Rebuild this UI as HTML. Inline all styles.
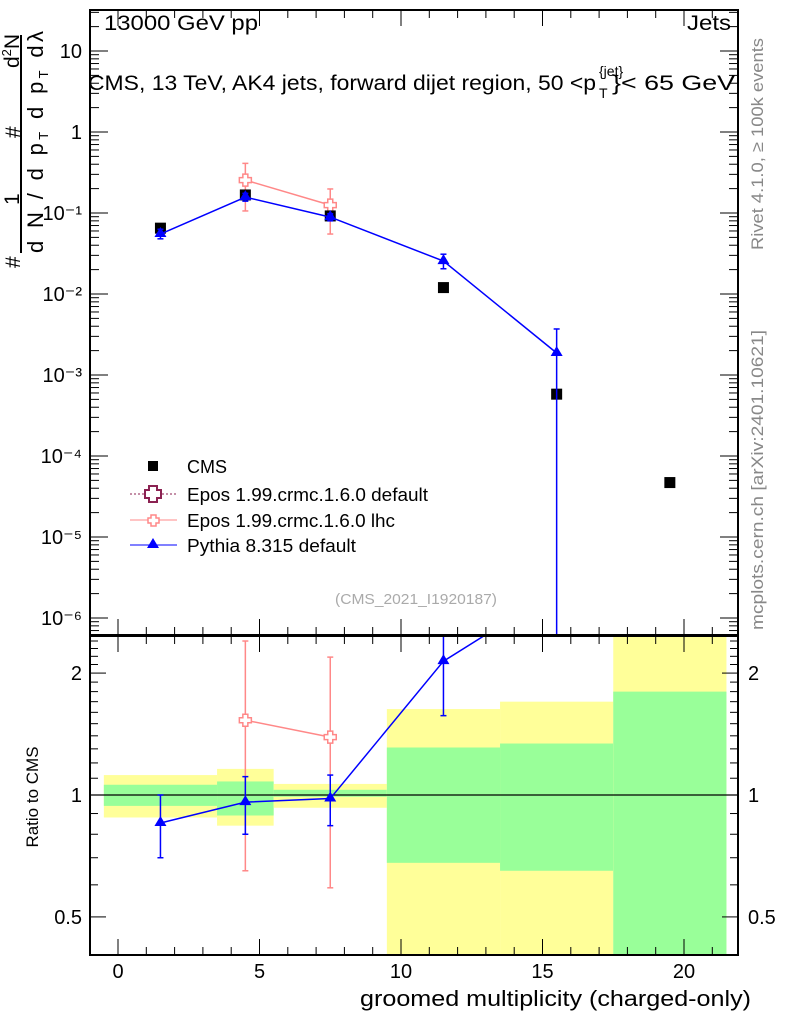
<!DOCTYPE html>
<html><head><meta charset="utf-8"><style>
html,body{margin:0;padding:0;background:#fff;overflow:hidden;}
svg{display:block;font-family:"Liberation Sans",sans-serif;}
</style></head><body>
<svg id="c" width="786" height="1024" viewBox="0 0 786 1024" xmlns="http://www.w3.org/2000/svg">
<text x="104" y="30" font-size="21" textLength="154" lengthAdjust="spacingAndGlyphs">13000 GeV pp</text>
<text x="687" y="30" font-size="21" textLength="44" lengthAdjust="spacingAndGlyphs">Jets</text>
<text x="88" y="90" font-size="21"><tspan textLength="508" lengthAdjust="spacingAndGlyphs">CMS, 13 TeV, AK4 jets, forward dijet region, 50 &lt;p</tspan><tspan font-size="14" dy="-14" x="599">{jet}</tspan><tspan font-size="14" x="599" dy="22">T</tspan><tspan x="612" dy="-8" textLength="123" lengthAdjust="spacingAndGlyphs">}&lt; 65 GeV</tspan></text>
<g transform="translate(0,300) rotate(-90)" font-size="21">
  <text x="32" y="20">#</text>
  <text x="95" y="19">1</text>
  <text x="162" y="20">#</text>
  <text x="232" y="19">d<tspan font-size="13" dy="-8">2</tspan><tspan dy="8">N</tspan></text>
  <line x1="47" y1="21" x2="265" y2="21" stroke="#000" stroke-width="2"/>
  <text x="47" y="43" font-size="22" textLength="222" lengthAdjust="spacing">d N / d p<tspan font-size="13" dy="5">T</tspan><tspan dy="-5"> d p</tspan><tspan font-size="13" dy="5">T</tspan><tspan dy="-5"> dλ</tspan></text>
</g>
<text transform="translate(38,797) rotate(-90)" font-size="17" text-anchor="middle">Ratio to CMS</text>
<text transform="translate(763,144) rotate(-90)" font-size="17" fill="#888" text-anchor="middle" textLength="212" lengthAdjust="spacingAndGlyphs">Rivet 4.1.0, ≥ 100k events</text>
<text transform="translate(763,480) rotate(-90)" font-size="17" fill="#888" text-anchor="middle" textLength="300" lengthAdjust="spacingAndGlyphs">mcplots.cern.ch [arXiv:2401.10621]</text>
<text x="335" y="604" font-size="15" fill="#aaa" textLength="162" lengthAdjust="spacingAndGlyphs">(CMS_2021_I1920187)</text>
<text x="360" y="1006" font-size="22" textLength="391" lengthAdjust="spacingAndGlyphs">groomed multiplicity (charged-only)</text>
<g id="bands"></g><g id="marks"></g><g id="axes"></g>
<g font-size="18">
  <rect x="148" y="461" width="10" height="10" fill="#000"/>
  <text x="187" y="473">CMS</text>
  <line x1="130" y1="494" x2="177" y2="494" stroke="#8b2252" stroke-dasharray="2,2"/>
  <path d="M149,488h8v4h4v8h-4v4h-8v-4h-4v-8h4z" transform="translate(0,-2)" fill="#fff" stroke="#8b2252" stroke-width="2"/>
  <text x="187" y="501" textLength="241" lengthAdjust="spacingAndGlyphs">Epos 1.99.crmc.1.6.0 default</text>
  <line x1="130" y1="520" x2="177" y2="520" stroke="#f88"/>
  <path d="M151,515h5v3h3v5h-3v3h-5v-3h-3v-5h3z" fill="#fff" stroke="#f88" stroke-width="1.5"/>
  <text x="187" y="527" textLength="208" lengthAdjust="spacingAndGlyphs">Epos 1.99.crmc.1.6.0 lhc</text>
  <line x1="130" y1="545" x2="177" y2="545" stroke="#00f"/>
  <path d="M153,538l6,10h-12z" fill="#00f"/>
  <text x="187" y="552" textLength="169" lengthAdjust="spacingAndGlyphs">Pythia 8.315 default</text>
</g>
</svg>
<script>
const xs = [1.5, 4.5, 7.5, 11.5, 15.5, 19.5];
const cmsVals = [0.065, 0.167, 0.092, 0.012, 5.8e-4, 4.7e-5];
const pyVals = [0.055, 0.157, 0.089, 0.0255, 1.87e-3];
const pyLo = [0.048, 0.140, 0.080, 0.0205, 1e-9];
const pyHi = [0.063, 0.175, 0.098, 0.031, 3.7e-3];
const eposX = [4.5, 7.5];
const eposVals = [0.255, 0.125];
const eposLo = [0.106, 0.055];
const eposHi = [0.41, 0.198];
const pyRatio = [0.853, 0.96, 0.98, 2.14, 3.2];
const pyRatioLo = [0.70, 0.80, 0.84, 1.57, 3.1];
const pyRatioHi = [1.0, 1.11, 1.12, 3.0, 6.4];
const eposRatio = [1.53, 1.39];
const eposRatioLo = [0.65, 0.59];
const eposRatioHi = [2.4, 2.19];
const binEdges = [-0.5, 3.5, 5.5, 9.5, 13.5, 17.5, 21.5];
const yellowHi = [1.12, 1.16, 1.065, 1.63, 1.70, 5.0];
const yellowLo = [0.88, 0.84, 0.93, 0.2, 0.2, 0.2];
const greenHi = [1.06, 1.08, 1.03, 1.31, 1.34, 1.80];
const greenLo = [0.94, 0.89, 0.99, 0.68, 0.65, 0.2];
const xTicks = [0, 5, 10, 15, 20];
const mainTicks = [1, 0, -1, -2, -3, -4, -5, -6];
const mainTickLabels = ["10", "1", "10⁻¹", "10⁻²", "10⁻³", "10⁻⁴", "10⁻⁵", "10⁻⁶"];
const ratioTicks = [2, 1, 0.5];
const ratioTickLabels = ["2", "1", "0.5"];

const L=90,R=738,T=10,MB=635,RT=636,RB=955;
const X=v=>118+v*28.3;
const Y=v=>132-Math.log10(v)*81;
const YR=v=>795-Math.log10(v)*405;
const NS="http://www.w3.org/2000/svg";
function mk(p,tag,at){const e=document.createElementNS(NS,tag);for(const k in at)e.setAttribute(k,at[k]);p.appendChild(e);return e;}
const bands=document.getElementById('bands'),marks=document.getElementById('marks'),axes=document.getElementById('axes');
const clipY=v=>Math.max(RT,Math.min(RB,v));
const svg=document.getElementById('c');
const defs=mk(svg,'defs',{});
const cm=mk(defs,'clipPath',{id:'mc'});mk(cm,'rect',{x:L,y:T,width:R-L,height:MB-T});
const cr=mk(defs,'clipPath',{id:'rc'});mk(cr,'rect',{x:L,y:RT,width:R-L,height:RB-RT});
const mainG=mk(marks,'g',{'clip-path':'url(#mc)'});
const ratG=mk(marks,'g',{'clip-path':'url(#rc)'});
for(let i=0;i<binEdges.length-1;i++){
  const x0=X(binEdges[i]),w=X(binEdges[i+1])-x0;
  let r=mk(bands,'rect',{x:x0,y:clipY(YR(yellowHi[i])),width:w,height:clipY(YR(yellowLo[i]))-clipY(YR(yellowHi[i])),fill:'#ffff99'});
  
  
  r=mk(bands,'rect',{x:x0,y:clipY(YR(greenHi[i])),width:w,height:clipY(YR(greenLo[i]))-clipY(YR(greenHi[i])),fill:'#99ff99'});
  
  
}
mk(ratG,'line',{x1:L,x2:R,y1:YR(1),y2:YR(1),stroke:'#000','stroke-width':1.2});
function series(g,xv,vals,lo,hi,fy,col,marker,name,y0,y1){
  const cl=v=>Math.max(y0-20,Math.min(y1+20,v));
  let pts=xv.map((x,i)=>X(x)+','+fy(vals[i])).join(' ');
  const pl=mk(g,'polyline',{points:pts,fill:'none',stroke:col,'stroke-width':1.5});
  
  
  xv.forEach((x,i)=>{
    const cx=X(x),cy=fy(vals[i]);
    mk(g,'line',{x1:cx,x2:cx,y1:cl(fy(hi[i])),y2:cl(fy(lo[i])),stroke:col,'stroke-width':1.5});
    mk(g,'line',{x1:cx-3,x2:cx+3,y1:fy(hi[i]),y2:fy(hi[i]),stroke:col,'stroke-width':1.5});
    mk(g,'line',{x1:cx-3,x2:cx+3,y1:cl(fy(lo[i])),y2:cl(fy(lo[i])),stroke:col,'stroke-width':1.5});
    let m;
    if(marker==='tri') m=mk(g,'path',{d:`M${cx},${cy-7}l6,10h-12z`,fill:col});
    else m=mk(g,'path',{d:`M${cx-2.5},${cy-6}h5v3.5h3.5v5h-3.5v3.5h-5v-3.5h-3.5v-5h3.5z`,fill:'#fff',stroke:col,'stroke-width':1.5});
    
    
  });
}
series(mainG,eposX,eposVals,eposLo,eposHi,Y,'#f88','cross','epos-lhc',T,MB);
xs.forEach((x,i)=>{
  const r=mk(mainG,'rect',{x:X(x)-5.5,y:Y(cmsVals[i])-5.5,width:11,height:11,fill:'#000'});
  
  
});
series(mainG,xs.slice(0,5),pyVals,pyLo,pyHi,Y,'#00f','tri','pythia',T,MB);
series(ratG,eposX,eposRatio,eposRatioLo,eposRatioHi,YR,'#f88','cross','epos-lhc-ratio',RT,RB);
series(ratG,xs.slice(0,5),pyRatio,pyRatioLo,pyRatioHi,YR,'#00f','tri','pythia-ratio',RT,RB);
mk(axes,'rect',{x:L,y:T,width:R-L,height:MB-T,fill:'none',stroke:'#000','stroke-width':2});
mk(axes,'rect',{x:L,y:RT,width:R-L,height:RB-RT,fill:'none',stroke:'#000','stroke-width':2});
for(let v=-1;v<=21.9;v++){
  const big=xTicks.includes(v),len=big?16:8;
  [[T,1],[MB,-1],[RT,1],[RB,-1]].forEach(([y,s])=>mk(axes,'line',{x1:X(v),x2:X(v),y1:y,y2:y+s*len,stroke:'#000'}));
}
xTicks.forEach(v=>{const t=mk(axes,'text',{x:X(v),y:978,'font-size':20,'text-anchor':'middle'});t.textContent=v;
  
  });
mainTicks.forEach((d,i)=>{
  const y=Y(Math.pow(10,d));
  mk(axes,'line',{x1:L,x2:L+18,y1:y,y2:y,stroke:'#000'});mk(axes,'line',{x1:R,x2:R-18,y1:y,y2:y,stroke:'#000'});
  for(let k=2;k<10;k++){const yy=Y(k*Math.pow(10,d-1));if(yy>T&&yy<MB){mk(axes,'line',{x1:L,x2:L+9,y1:yy,y2:yy,stroke:'#000'});mk(axes,'line',{x1:R,x2:R-9,y1:yy,y2:yy,stroke:'#000'});}}
  const t=mk(axes,'text',{x:82,y:y+7,'font-size':20,'text-anchor':'end'});t.textContent=mainTickLabels[i];
  
  
});
for(let k=2;k<10;k++){const yy=Y(k*10);if(yy>T){mk(axes,'line',{x1:L,x2:L+9,y1:yy,y2:yy,stroke:'#000'});mk(axes,'line',{x1:R,x2:R-9,y1:yy,y2:yy,stroke:'#000'});}}
[0.4,0.5,0.6,0.7,0.8,0.9,1,1.1,1.2,1.3,1.4,1.5,1.6,1.7,1.8,1.9,2,2.1,2.2,2.3,2.4].forEach(v=>{
  const y=YR(v);if(y<RT||y>RB)return;const big=ratioTicks.includes(v),len=big?16:8;
  mk(axes,'line',{x1:L,x2:L+len,y1:y,y2:y,stroke:'#000'});mk(axes,'line',{x1:R,x2:R-len,y1:y,y2:y,stroke:'#000'});
});
ratioTicks.forEach((v,i)=>{
  let t=mk(axes,'text',{x:82,y:YR(v)+7,'font-size':20,'text-anchor':'end'});t.textContent=ratioTickLabels[i];
  
  
  t=mk(axes,'text',{x:748,y:YR(v)+7,'font-size':20});t.textContent=ratioTickLabels[i];
  
  
});
</script>
</body></html>
